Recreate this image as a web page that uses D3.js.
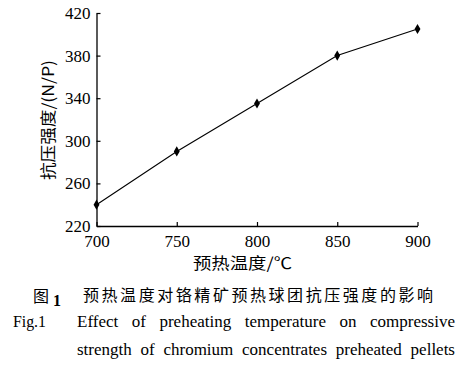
<!DOCTYPE html>
<html><head><meta charset="utf-8">
<script src="https://cdn.jsdelivr.net/npm/d3@7"></script>
<style>body{margin:0;background:#fff}svg{display:block}</style>
</head><body>
<svg id="c" width="465" height="373"></svg>
<script>
const temps = [700, 750, 800, 850, 900];
const strength = [240, 290, 335, 380, 405];
const xTicks = [700, 750, 800, 850, 900];
const yTicks = [220, 260, 300, 340, 380, 420];
const xLabel = "预热温度/℃";
const yLabel = "抗压强度/(N/P)";
const captionCn = "预热温度对铬精矿预热球团抗压强度的影响";
const captionEn1 = "Effect of preheating temperature on compressive";
const captionEn2 = "strength of chromium concentrates preheated pellets";

const svg = d3.select("#c");
const serif = "'Liberation Serif','DejaVu Serif',serif";
const cjk = "'Noto Sans CJK SC',sans-serif";
const x = d3.scaleLinear().domain([700, 900]).range([96.5, 417.5]);
const y = d3.scaleLinear().domain([220, 420]).range([226, 13]);

const xa = svg.append("g").attr("transform", "translate(0,226)")
  .call(d3.axisBottom(x).tickValues(xTicks).tickSizeInner(-4).tickSizeOuter(0).tickPadding(9));
const ya = svg.append("g").attr("transform", "translate(96.5,0)")
  .call(d3.axisLeft(y).tickValues(yTicks).tickSizeInner(-4).tickSizeOuter(0).tickPadding(6));
[xa, ya].forEach(g => {
  g.select(".domain").attr("stroke", "#000").attr("stroke-width", 1.3);
  g.selectAll(".tick line").attr("stroke", "#000").attr("stroke-width", 1.2);
  g.selectAll(".tick text").attr("fill", "#000").style("font-family", serif).style("font-size", "17px");
});

svg.append("path").datum(temps.map((t, i) => [t, strength[i]]))
  .attr("fill", "none").attr("stroke", "#000").attr("stroke-width", 1.1)
  .attr("d", d3.line().x(d => x(d[0])).y(d => y(d[1])));
svg.selectAll(".pt").data(temps).enter().append("path")
  .attr("transform", (d, i) => `translate(${x(d)},${y(strength[i])})`)
  .attr("d", d3.symbol().type(d3.symbolDiamond).size(30)).attr("fill", "#000");

svg.append("text").attr("x", 193).attr("y", 269).attr("textLength", 99).attr("lengthAdjust", "spacingAndGlyphs")
  .style("font-family", cjk).style("font-size", "16px").text(xLabel);
svg.append("text").attr("transform", "translate(54,180) rotate(-90)").attr("textLength", 120).attr("lengthAdjust", "spacingAndGlyphs")
  .style("font-family", cjk).style("font-size", "16px").text(yLabel);

svg.append("text").attr("x", 33).attr("y", 302).style("font-family", cjk).style("font-size", "16px").text("图");
svg.append("text").attr("x", 53).attr("y", 306).style("font-family", serif).style("font-weight", "bold").style("font-size", "16px").text("1");
svg.append("text").attr("x", 83).attr("y", 301).attr("textLength", 350).attr("lengthAdjust", "spacing")
  .style("font-family", cjk).style("font-size", "16px").text(captionCn);
svg.append("text").attr("x", 13).attr("y", 327).attr("textLength", 33).attr("lengthAdjust", "spacingAndGlyphs")
  .style("font-family", serif).style("font-size", "16px").text("Fig.1");

function justify(line, yy, x0, x1) {
  const words = line.split(" ");
  const g = svg.append("g");
  const nodes = words.map(w => g.append("text").attr("y", yy).style("font-family", serif).style("font-size", "17px").text(w));
  const widths = nodes.map(n => n.node().getComputedTextLength());
  const total = d3.sum(widths);
  const gap = (x1 - x0 - total) / (words.length - 1);
  let cx = x0;
  nodes.forEach((n, i) => { n.attr("x", cx); cx += widths[i] + gap; });
}
justify(captionEn1, 327, 77, 455);
justify(captionEn2, 355, 77, 455);
</script>
</body></html>
